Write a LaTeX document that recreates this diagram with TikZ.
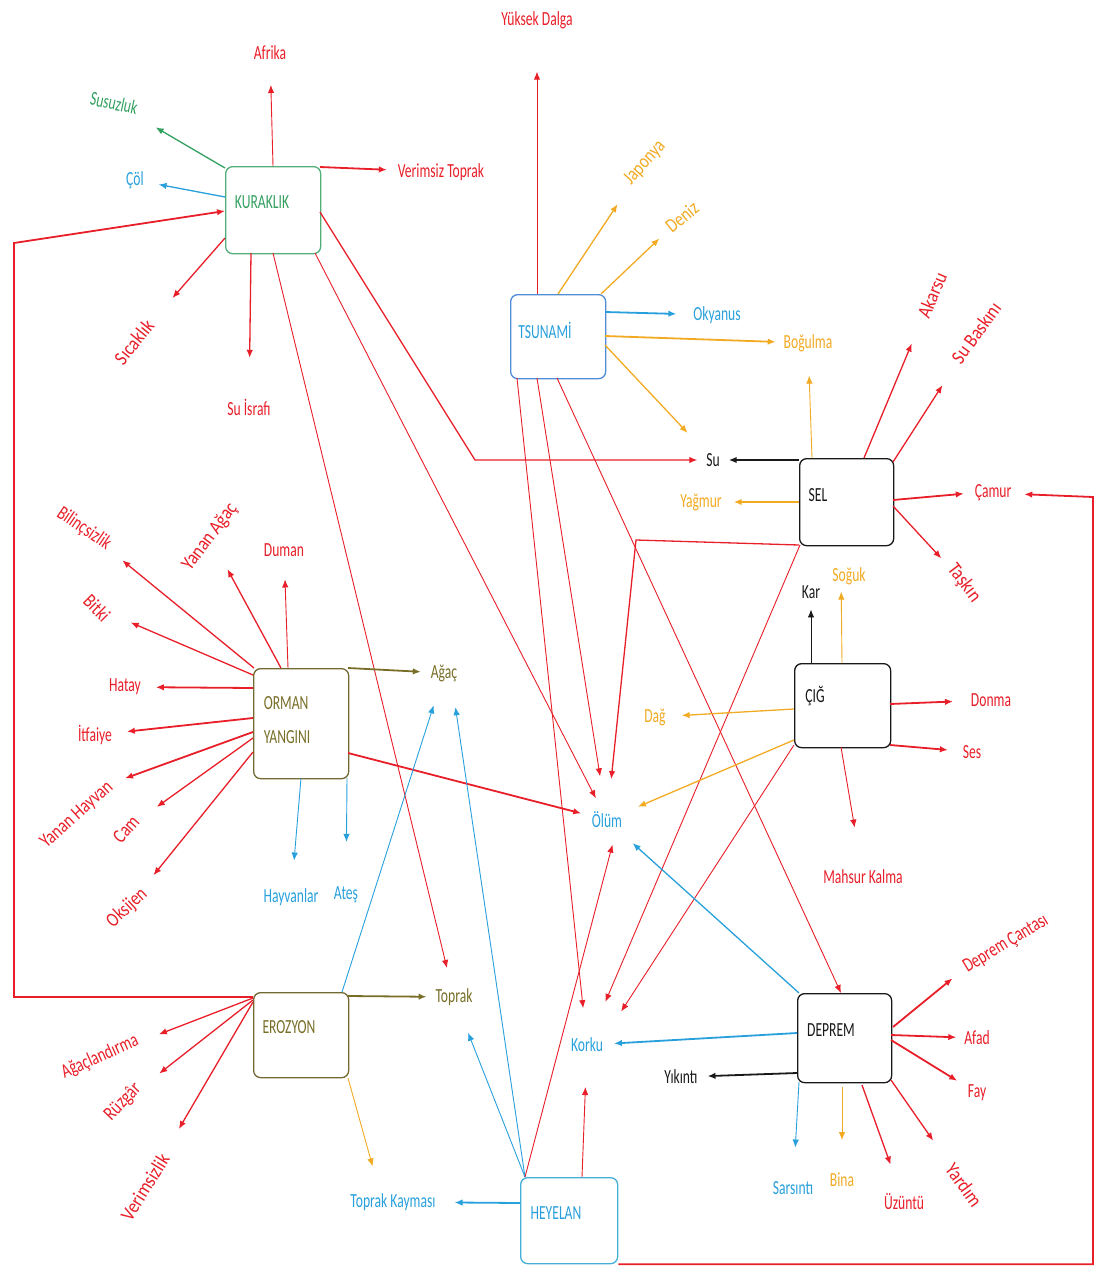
\documentclass[tikz,border=0pt]{standalone}
\usepackage{fontspec}
\newfontfamily\lblfont{Carlito}[FakeStretch=0.68]
\newfontfamily\rotfontA{Carlito}[FakeStretch=0.74]
\newfontfamily\rotfontB{Carlito}[FakeStretch=0.80]
\newfontfamily\rotfontC{Carlito}[FakeStretch=0.86]
\usetikzlibrary{arrows.meta,calc}
\definecolor{cRed}{RGB}{232,30,40}
\definecolor{cBlue}{RGB}{40,160,220}
\definecolor{cGreen}{RGB}{50,160,95}
\definecolor{cOrange}{RGB}{242,170,35}
\definecolor{cOlive}{RGB}{120,110,40}
\definecolor{cBlack}{RGB}{25,25,25}
\definecolor{bGreen}{RGB}{80,175,120}
\definecolor{bBlue}{RGB}{80,140,215}
\definecolor{bCyan}{RGB}{70,175,215}
\definecolor{bOlive}{RGB}{115,105,50}
\tikzset{
  lbl/.style={font=\lblfont\fontsize{20}{24}\selectfont, inner sep=1pt, outer sep=2pt, align=center},
  rlblA/.style={lbl, font=\rotfontA\fontsize{20}{24}\selectfont},
  rlblB/.style={lbl, font=\rotfontB\fontsize{20}{24}\selectfont},
  rlblC/.style={lbl, font=\rotfontC\fontsize{20}{24}\selectfont},
  box/.style={draw=#1, line width=1.3pt, rounded corners=7pt, fill=white, anchor=north west, inner sep=0pt},
  arrowtip/.style={-{Latex[length=8pt,width=6.5pt]}},
  thinarrow/.style={arrowtip, line width=0.9pt},
  midarrow/.style={arrowtip, line width=1.3pt},
  thickarrow/.style={arrowtip, line width=1.8pt}
}
\begin{document}
\begin{tikzpicture}[x=1pt, y=-1pt]
\useasboundingbox (0,0) rectangle (1099,1266);

% boxes
\node[box=bGreen, minimum width=95pt, minimum height=87pt] (kur) at (225,166) {};
\node[box=bBlue, minimum width=95pt, minimum height=84pt] (tsu) at (510,294) {};
\node[box=cBlack, minimum width=94pt, minimum height=87pt] (sel) at (799,458) {};
\node[box=cBlack, minimum width=96pt, minimum height=84pt] (cig) at (794,663) {};
\node[box=bOlive, minimum width=95pt, minimum height=110pt] (orm) at (253,668) {};
\node[box=bOlive, minimum width=95pt, minimum height=85pt] (ero) at (253,992) {};
\node[box=cBlack, minimum width=94pt, minimum height=89pt] (dep) at (797,993) {};
\node[box=bCyan, minimum width=97pt, minimum height=86pt] (hey) at (520,1177) {};

% box texts
\node[lbl, text=cGreen] (kurT) at (262,202) {KURAKLIK};
\node[lbl, text=cBlue] (tsuT) at (545,330) {TSUNAMİ};
\node[lbl, text=cBlack] (selT) at (818,495) {SEL};
\node[lbl, text=cBlack] (cigT) at (815,696) {ÇIĞ};
\node[lbl, text=cOlive, align=left] (ormT) at (287,720) {ORMAN\\[10pt]YANGINI};
\node[lbl, text=cOlive] (eroT) at (289,1027) {EROZYON};
\node[lbl, text=cBlack] (depT) at (831,1030) {DEPREM};
\node[lbl, text=cBlue] (heyT) at (556,1213) {HEYELAN};

% labels
\node[lbl,text=cRed] (afrT) at (270,53) {Afrika};
\node[lbl,text=cGreen,rotate=-12] (susT) at (114,103) {Susuzluk};
\node[lbl,text=cBlue] (colT) at (135,180) {Çöl};
\node[lbl,text=cRed] (verT) at (441,172) {Verimsiz Toprak};
\node[rlblC,text=cRed,rotate=51] (sicT) at (134,342) {Sıcaklık};
\node[lbl,text=cRed] (israfT) at (249,407) {Su İsrafı};
\node[lbl,text=cRed] (ydT) at (537,20) {Yüksek Dalga};
\node[rlblB,text=cOrange,rotate=48] (japT) at (645,163) {Japonya};
\node[rlblB,text=cOrange,rotate=39] (denT) at (682,217) {Deniz};
\node[lbl,text=cBlue] (okyT) at (717,315) {Okyanus};
\node[lbl,text=cOrange] (bogT) at (808,343) {Boğulma};
\node[rlblC,text=cRed,rotate=67] (akaT) at (932,295) {Akarsu};
\node[rlblC,text=cRed,rotate=54] (sbT) at (976,333) {Su Baskını};
\node[lbl,text=cBlack] (suT) at (713,460) {Su};
\node[lbl,text=cOrange] (yagT) at (701,502) {Yağmur};
\node[lbl,text=cRed] (camuT) at (993,493) {Çamur};
\node[rlblC,text=cRed,rotate=-53] (taskT) at (964,583) {Taşkın};
\node[lbl,text=cOrange] (sogT) at (849,576) {Soğuk};
\node[lbl,text=cBlack] (karT) at (811,592) {Kar};
\node[lbl,text=cOrange] (dagT) at (655,717) {Dağ};
\node[lbl,text=cRed] (donT) at (991,700) {Donma};
\node[lbl,text=cRed] (sesT) at (972,752) {Ses};
\node[lbl,text=cBlue] (olmT) at (607,820) {Ölüm};
\node[lbl,text=cRed] (mahT) at (863,877) {Mahsur Kalma};
\node[lbl,text=cOlive] (agcT) at (444,673) {Ağaç};
\node[lbl,text=cRed] (dumT) at (284,550) {Duman};
\node[rlblC,text=cRed,rotate=53] (yaT) at (210,537) {Yanan Ağaç};
\node[rlblA,text=cRed,rotate=-34] (bilT) at (84,529) {Bilinçsizlik};
\node[rlblB,text=cRed,rotate=-45] (bitT) at (97,608) {Bitki};
\node[lbl,text=cRed] (hatT) at (125,687) {Hatay};
\node[lbl,text=cRed] (itfT) at (95,735) {İtfaiye};
\node[rlblB,text=cRed,rotate=42] (yhvT) at (77,815) {Yanan Hayvan};
\node[rlblB,text=cRed,rotate=48] (camT) at (126,829) {Cam};
\node[rlblB,text=cRed,rotate=43] (oksT) at (127,908) {Oksijen};
\node[lbl,text=cBlue] (hayT) at (291,897) {Hayvanlar};
\node[lbl,text=cBlue] (ateT) at (346,895) {Ateş};
\node[lbl,text=cOlive] (topT) at (454,997) {Toprak};
\node[lbl,text=cBlue] (korT) at (587,1045) {Korku};
\node[lbl,text=cBlack] (yikT) at (681,1077) {Yıkıntı};
\node[rlblA,text=cRed,rotate=31] (dcT) at (1006,944) {Deprem Çantası};
\node[lbl,text=cRed] (afaT) at (977,1038) {Afad};
\node[lbl,text=cRed] (fayT) at (977,1093) {Fay};
\node[rlblC,text=cRed,rotate=-54] (yarT) at (964,1185) {Yardım};
\node[lbl,text=cRed] (uzuT) at (904,1202) {Üzüntü};
\node[lbl,text=cOrange] (binT) at (842,1180) {Bina};
\node[lbl,text=cBlue] (sarT) at (793,1188) {Sarsıntı};
\node[lbl,text=cBlue] (tkT) at (393,1202) {Toprak Kayması};
\node[rlblA,text=cRed,rotate=24] (aglT) at (100,1057) {Ağaçlandırma};
\node[rlblB,text=cRed,rotate=46] (ruzT) at (123,1102) {Rüzgâr};
\node[rlblC,text=cRed,rotate=58] (verzT) at (145,1187) {Verimsizlik};

% KURAKLIK
\draw[thinarrow,cRed,shorten >=22pt] ($(kur.north west)+(48,0)$) -- (afrT);
\draw[midarrow,cGreen,shorten >=20pt] ($(kur.north west)+(0,2)$) -- (susT);
\draw[midarrow,cBlue,shorten >=12pt] ($(kur.north west)+(0,31)$) -- (colT);
\draw[thickarrow,cRed,shorten >=8pt] ($(kur.north west)+(95,1)$) -- (verT);
\draw[midarrow,cRed,shorten >=30pt] ($(kur.north west)+(0,72)$) -- (sicT);
\draw[midarrow,cRed,shorten >=38pt] ($(kur.north west)+(26,87)$) -- (israfT);
\draw[thinarrow,cRed,shorten >=18pt] ($(kur.north west)+(48,87)$) -- (topT);
\draw[thinarrow,cRed,shorten >=12pt] ($(kur.north west)+(90,87)$) -- (olmT);
\draw[midarrow,cRed,shorten >=6pt] ($(kur.north west)+(95,46)$) -- ($(suT)+(-238,0)$) -- (suT);
\draw[thickarrow,cRed] ($(ero.north west)+(0,5)$) -| ($(kur.north west)+(-211,77)$) -- ($(kur.north west)+(0,45)$);

% TSUNAMI
\draw[thinarrow,cRed,shorten >=40pt] ($(tsu.north west)+(27,0)$) -- (ydT);
\draw[midarrow,cOrange,shorten >=20pt] ($(tsu.north west)+(48,0)$) -- (japT);
\draw[midarrow,cOrange,shorten >=10pt] ($(tsu.north west)+(91,0)$) -- (denT);
\draw[thickarrow,cBlue,shorten >=14pt] ($(tsu.north west)+(95,18)$) -- (okyT);
\draw[thickarrow,cOrange,shorten >=5pt] ($(tsu.north west)+(95,42)$) -- (bogT);
\draw[midarrow,cOrange,shorten >=24pt] ($(tsu.north west)+(95,51)$) -- (suT);
\draw[thinarrow,cRed,shorten >=27pt] ($(tsu.north west)+(7,84)$) -- (korT);
\draw[thinarrow,cRed,shorten >=33pt] ($(tsu.north west)+(27,84)$) -- (olmT);
\draw[thinarrow,cRed] ($(tsu.north west)+(47,84)$) -- ($(dep.north west)+(44,0)$);

% SEL
\draw[thickarrow,cBlack,shorten >=6pt] ($(sel.north west)+(0,2)$) -- (suT);
\draw[thickarrow,cOrange,shorten >=9pt] ($(sel.north west)+(0,44)$) -- (yagT);
\draw[thinarrow,cOrange,shorten >=21pt] ($(sel.north west)+(13,0)$) -- (bogT);
\draw[midarrow,cRed,shorten >=26pt] ($(sel.north west)+(65,0)$) -- (akaT);
\draw[midarrow,cRed,shorten >=24pt] ($(sel.north west)+(94,4)$) -- (sbT);
\draw[thickarrow,cRed,shorten >=8pt] ($(sel.north west)+(94,42)$) -- (camuT.west);
\draw[midarrow,cRed,shorten >=9pt] ($(sel.north west)+(94,48)$) -- (taskT);
\draw[midarrow,cRed,shorten >=30pt] ($(sel.north west)+(0,87)$) -- ($(sel.north west)+(-163,82)$) -- (olmT);
\draw[thinarrow,cRed,shorten >=36pt] ($(sel.north west)+(1,87)$) -- (korT);

% CIG
\draw[thinarrow,cBlack,shorten >=8pt] ($(cig.north west)+(17,0)$) -- (karT);
\draw[thinarrow,cOrange,shorten >=4pt] ($(cig.north west)+(48,0)$) -- ($(sogT.south west)!0.6!(sogT.south)$);
\draw[midarrow,cOrange,shorten >=13pt] ($(cig.north west)+(0,46)$) -- (dagT);
\draw[thickarrow,cRed,shorten >=15pt] ($(cig.north west)+(96,41)$) -- (donT);
\draw[thickarrow,cRed,shorten >=12pt] ($(cig.north west)+(96,82)$) -- (sesT);
\draw[thinarrow,cRed,shorten >=40pt] ($(cig.north west)+(47,84)$) -- (mahT);
\draw[midarrow,cOrange,shorten >=14pt] ($(cig.north west)+(0,77)$) -- (olmT);
\draw[thinarrow,cRed,shorten >=28pt] ($(cig.north west)+(0,82)$) -- (korT.north east);

% ORMAN YANGINI
\draw[thickarrow,cOlive,shorten >=7pt] ($(orm.north west)+(95,0)$) -- (agcT);
\draw[thinarrow,cRed,shorten >=20pt] ($(orm.north west)+(35,0)$) -- (dumT);
\draw[midarrow,cRed,shorten >=24pt] ($(orm.north west)+(28,0)$) -- (yaT);
\draw[midarrow,cRed,shorten >=16pt] ($(orm.north west)+(1,0)$) -- (bilT);
\draw[midarrow,cRed,shorten >=18pt] ($(orm.north west)+(0,7)$) -- (bitT);
\draw[thickarrow,cRed,shorten >=12pt] ($(orm.north west)+(0,20)$) -- (hatT);
\draw[thickarrow,cRed,shorten >=12pt] ($(orm.north west)+(0,50)$) -- (itfT);
\draw[thickarrow,cRed,shorten >=13pt] ($(orm.north west)+(0,64)$) -- (yhvT.east);
\draw[midarrow,cRed,shorten >=20pt] ($(orm.north west)+(0,70)$) -- (camT);
\draw[midarrow,cRed,shorten >=15pt] ($(orm.north west)+(0,84)$) -- (oksT);
\draw[thinarrow,cBlue,shorten >=25pt] ($(orm.north west)+(48,110)$) -- (hayT);
\draw[thinarrow,cBlue,shorten >=42pt] ($(orm.north west)+(94,110)$) -- (ateT);
\draw[thickarrow,cRed,shorten >=8pt] ($(orm.north west)+(95,85)$) -- (olmT);

% EROZYON
\draw[thickarrow,cOlive,shorten >=6pt] ($(ero.north west)+(95,4)$) -- (topT);
\draw[thinarrow,cBlue,shorten >=22pt] ($(ero.north west)+(89,0)$) -- (agcT);
\draw[thinarrow,cOrange,shorten >=25pt] ($(ero.north west)+(95,86)$) -- ($(tkT.north west)!0.7!(tkT.north)$);
\draw[midarrow,cRed,shorten >=19pt] ($(ero.north west)+(0,6)$) -- (aglT);
\draw[midarrow,cRed,shorten >=21pt] ($(ero.north west)+(0,8)$) -- (ruzT);
\draw[midarrow,cRed,shorten >=27pt] ($(ero.north west)+(0,10)$) -- (verzT);

% HEYELAN
\draw[thickarrow,cBlue,shorten >=16pt] ($(hey.north west)+(0,26)$) -- (tkT);
\draw[thinarrow,cBlue,shorten >=26pt] ($(hey.north west)+(5,0)$) -- (topT);
\draw[thinarrow,cBlue,shorten >=23pt] ($(hey.north west)+(5,0)$) -- ($(agcT.south)!0.5!(agcT.south east)$);
\draw[thinarrow,cRed,shorten >=14pt] ($(hey.north west)+(5,0)$) -- ($(olmT.south)!0.5!(olmT.south east)$);
\draw[thinarrow,cRed,shorten >=32pt] ($(hey.north west)+(62,0)$) -- (korT);
\draw[thickarrow,cRed,shorten >=10pt] (hey.south east) -| ($(camuT)+(100,4)$) -- (camuT);

% DEPREM
\draw[thickarrow,cBlue,shorten >=8pt] ($(dep.north west)+(0,40)$) -- (korT);
\draw[thickarrow,cBlack,shorten >=7pt] ($(dep.north west)+(0,80)$) -- (yikT);
\draw[midarrow,cBlue,shorten >=18pt] ($(dep.north west)+(2,0)$) -- (olmT);
\draw[thickarrow,cRed,shorten >=13pt] ($(dep.north west)+(96,34)$) -- (dcT.west);
\draw[thickarrow,cRed,shorten >=5pt] ($(dep.north west)+(94,42)$) -- (afaT);
\draw[thickarrow,cRed,shorten >=9pt] ($(dep.north west)+(94,47)$) -- (fayT);
\draw[midarrow,cRed,shorten >=27pt] ($(dep.north west)+(94,87)$) -- (yarT);
\draw[midarrow,cRed,shorten >=28pt] ($(dep.north west)+(65,92)$) -- (uzuT);
\draw[thinarrow,cOrange,shorten >=30pt] ($(dep.north west)+(45,94)$) -- (binT);
\draw[thinarrow,cBlue,shorten >=31pt] ($(dep.north west)+(2,89)$) -- (sarT);
\end{tikzpicture}
\end{document}
